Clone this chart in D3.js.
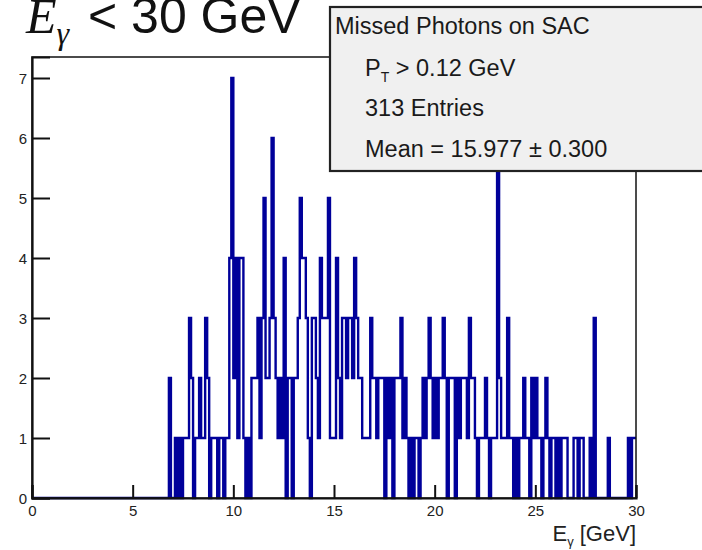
<!DOCTYPE html>
<html>
<head>
<meta charset="utf-8">
<script src="https://cdn.jsdelivr.net/npm/d3@7"></script>
<style>
  body { margin: 0; background: #fff; }
  svg { display: block; }
</style>
</head>
<body>
<svg id="chart" width="702" height="550"></svg>
<script>
// histogram E_gamma, 300 bins of 0.1 GeV from 0 to 30 (one row = 1 GeV)
var binLow = 0, binHigh = 30, binWidth = 0.1;
var counts = [].concat(
  [0,0,0,0,0,0,0,0,0,0], // 0
  [0,0,0,0,0,0,0,0,0,0], // 1
  [0,0,0,0,0,0,0,0,0,0], // 2
  [0,0,0,0,0,0,0,0,0,0], // 3
  [0,0,0,0,0,0,0,0,0,0], // 4
  [0,0,0,0,0,0,0,0,0,0], // 5
  [0,0,0,0,0,0,0,0,2,0], // 6
  [0,1,0,1,0,1,1,1,3,2], // 7
  [0,1,1,2,1,1,3,2,0,1], // 8
  [1,1,0,1,1,0,1,1,4,7], // 9
  [2,4,1,4,4,1,0,1,0,2], // 10
  [2,2,3,1,3,5,2,2,3,6], // 11
  [3,2,1,2,1,4,0,2,2,0], // 12
  [2,2,3,5,4,4,3,1,0,3], // 13
  [3,2,1,4,3,3,3,5,1,1], // 14
  [1,4,2,1,3,3,2,3,3,2], // 15
  [4,3,2,2,1,1,1,1,3,2], // 16
  [2,1,2,2,2,0,2,1,2,0], // 17
  [2,2,2,3,1,2,1,0,1,0], // 18
  [1,1,0,1,2,1,2,3,2,1], // 19
  [2,1,2,2,3,2,0,2,2,2], // 20
  [0,2,1,2,2,2,1,3,2,2], // 21
  [1,0,1,1,1,2,1,0,1,1], // 22
  [1,6,2,1,1,1,3,1,1,0], // 23
  [1,0,1,1,2,1,1,0,2,1], // 24
  [2,1,1,0,1,2,1,0,1,1], // 25
  [0,1,0,1,1,1,0,0,0,1], // 26
  [1,0,1,1,0,0,0,1,0,3], // 27
  [0,0,0,0,0,0,1,0,0,0], // 28
  [0,0,0,0,0,0,1,0,1,1]  // 29
);

var xTicks = [0, 5, 10, 15, 20, 25, 30];
var yTicks = [0, 1, 2, 3, 4, 5, 6, 7];
var yMax = 7.35;

var statsTitle = "Missed Photons on SAC";
var statsCut = ["P", "T", " > 0.12 GeV"];
var statsEntries = "313 Entries";
var statsMean = "Mean = 15.977 \u00b1 0.300";

var font = "'Liberation Sans', Arial, Helvetica, sans-serif";
var lineColor = "#00009a";

var svg = d3.select("#chart");
var frame = { left: 32, right: 636, top: 57, bottom: 498 };

var x = d3.scaleLinear().domain([binLow, binHigh]).range([frame.left, frame.right]);
var y = d3.scaleLinear().domain([0, yMax]).range([frame.bottom, frame.top]);

// histogram outline (steps)
var pts = counts.map(function(c, i) { return [binLow + i * binWidth, c]; });
pts.push([binHigh, counts[counts.length - 1]]);

var step = d3.line()
    .x(function(d) { return x(d[0]); })
    .y(function(d) { return y(d[1]); })
    .curve(d3.curveStepAfter);

svg.append("path")
    .attr("d", step(pts))
    .attr("fill", "none")
    .attr("stroke", lineColor)
    .attr("stroke-width", 2.4);

// frame
svg.append("rect")
    .attr("x", frame.left).attr("y", frame.top)
    .attr("width", frame.right - frame.left)
    .attr("height", frame.bottom - frame.top)
    .attr("fill", "none")
    .attr("stroke", "#111")
    .attr("stroke-width", 1.5);

// x axis: majors, minors
var gx = svg.append("g").attr("transform", "translate(0," + frame.bottom + ")");
gx.call(d3.axisBottom(x).tickValues(d3.range(0, 30.01, 1)).tickSize(-7).tickFormat(""));
gx.call(d3.axisBottom(x).tickValues(xTicks).tickSize(-13).tickPadding(4));

// y axis
var gy = svg.append("g").attr("transform", "translate(" + frame.left + ",0)");
gy.call(d3.axisLeft(y).tickValues(d3.range(0, 7.3, 0.2)).tickSize(-9).tickFormat(""));
gy.call(d3.axisLeft(y).tickValues(yTicks).tickSize(-18).tickPadding(5).tickFormat(d3.format("d")));

svg.selectAll(".domain").attr("stroke", "#111").attr("stroke-width", 2.2);
svg.selectAll(".tick line").attr("stroke", "#111").attr("stroke-width", 2);
svg.selectAll(".tick text")
    .attr("font-family", font)
    .attr("font-size", 15)
    .attr("fill", "#222");
gx.selectAll(".tick text").attr("dy", "0.9em");
gy.selectAll(".tick text").attr("dy", "0.35em");

// x axis title
var xt = svg.append("text")
    .attr("x", frame.right)
    .attr("y", 541)
    .attr("text-anchor", "end")
    .attr("font-family", font)
    .attr("font-size", 22)
    .attr("fill", "#222");
xt.append("tspan").text("E");
xt.append("tspan").attr("font-size", 13).attr("dy", 5).text("\u03b3");
xt.append("tspan").attr("dy", -5).text(" [GeV]");

// stats box
var box = svg.append("g");
box.append("rect")
    .attr("x", 330).attr("y", 7)
    .attr("width", 400).attr("height", 164)
    .attr("fill", "#f0f0f0")
    .attr("stroke", "#222")
    .attr("stroke-width", 2.2);

var sx = 335, sx2 = 365;
box.append("text")
    .attr("x", sx).attr("y", 34)
    .attr("font-family", font).attr("font-size", 23.5).attr("fill", "#1a1a1a")
    .text(statsTitle);

var cut = box.append("text")
    .attr("x", sx2).attr("y", 76)
    .attr("font-family", font).attr("font-size", 23.5).attr("fill", "#1a1a1a");
cut.append("tspan").text(statsCut[0]);
cut.append("tspan").attr("font-size", 14).attr("dy", 6).text(statsCut[1]);
cut.append("tspan").attr("dy", -6).text(statsCut[2]);

box.append("text")
    .attr("x", sx2).attr("y", 116)
    .attr("font-family", font).attr("font-size", 23.5).attr("fill", "#1a1a1a")
    .text(statsEntries);

box.append("text")
    .attr("x", sx2).attr("y", 157)
    .attr("font-family", font).attr("font-size", 23.5).attr("fill", "#1a1a1a")
    .text(statsMean);

// big title, its top runs off the picture as in the original
var title = svg.append("g");
var tt = title.append("text")
    .attr("x", 26).attr("y", 33)
    .attr("font-family", "'Liberation Serif', 'Times New Roman', serif")
    .attr("font-style", "italic")
    .attr("font-size", 50)
    .attr("fill", "#111");
tt.append("tspan").text("E");
tt.append("tspan").attr("font-size", 32).attr("dy", 11).text("\u03b3");

title.append("text")
    .attr("x", 88).attr("y", 33)
    .attr("font-family", font)
    .attr("font-size", 50)
    .attr("fill", "#111")
    .text("< 30 GeV");
</script>
</body>
</html>
